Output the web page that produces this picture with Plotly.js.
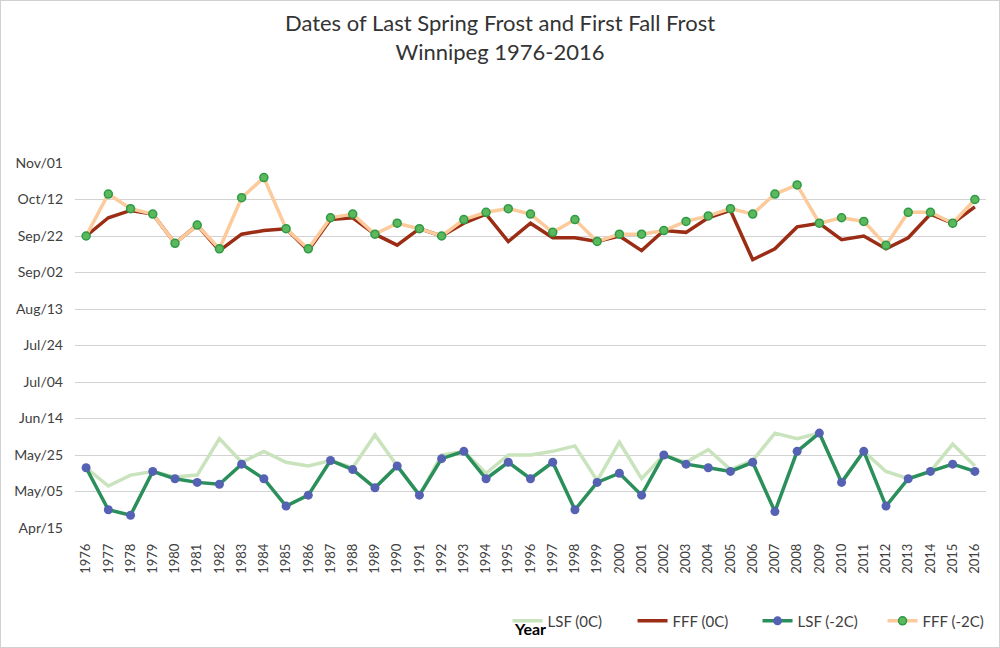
<!DOCTYPE html>
<html>
<head>
<meta charset="utf-8">
<script src="https://cdn.plot.ly/plotly-3.0.1.min.js"></script>
<style>
  html, body { margin: 0; padding: 0; background: #fff; }
  #chart { width: 998px; height: 646px; border: 1px solid #d0d0d0; }
</style>
</head>
<body>
<div id="chart"></div>
<script>
// Years (categories)
const years = ["1976","1977","1978","1979","1980","1981","1982","1983","1984","1985","1986","1987","1988","1989","1990","1991","1992","1993","1994","1995","1996","1997","1998","1999","2000","2001","2002","2003","2004","2005","2006","2007","2008","2009","2010","2011","2012","2013","2014","2015","2016"];

// Day-of-year values
const lsf0C = [138,128,134,136,133,134,154,141,147,141,139,142,138,156,139,123,145,147,135,145,145,147,150,131,152,132,145,141,148,137,142,157,154,157,130,147,136,132,136,151,139];
const fff0C = [265,275,279,277,261,271,257,266,268,269,257,274,275,266,260,269,265,272,277,262,272,264,264,262,265,257,268,267,275,279,252,258,270,272,263,265,258,264,277,272,281];
const lsfM2C = [138,115,112,136,132,130,129,140,132,117,123,142,137,127,139,123,143,147,132,141,132,141,115,130,135,123,145,140,138,136,141,114,147,157,130,147,117,132,136,140,136];
const fffM2C = [265,288,280,277,261,271,258,286,297,269,258,275,277,266,272,269,265,274,278,280,277,267,274,262,266,266,268,273,276,280,277,288,293,272,275,273,260,278,278,272,285];

// Y axis tick labels (day-of-year -> label)
const tickDays = [105,125,145,165,185,205,225,245,265,285,305];
const tickLabels = ["Apr/15","May/05","May/25","Jun/14","Jul/04","Jul/24","Aug/13","Sep/02","Sep/22","Oct/12","Nov/01"];

const FONT = "Lato, 'Open Sans', sans-serif";

const traces = [
  { x: years, y: lsf0C, name: "LSF (0C)", type: "scatter", mode: "lines",
    line: { color: "#c9e3bc", width: 3.5 } },
  { x: years, y: fff0C, name: "FFF (0C)", type: "scatter", mode: "lines",
    line: { color: "#9b2d15", width: 3.5 } },
  { x: years, y: lsfM2C, name: "LSF (-2C)", type: "scatter", mode: "lines+markers",
    line: { color: "#2a8f5a", width: 3.5 },
    marker: { color: "#5561b3", size: 9, line: { width: 0 } } },
  { x: years, y: fffM2C, name: "FFF (-2C)", type: "scatter", mode: "lines+markers",
    line: { color: "#fdca9b", width: 3.5 },
    marker: { color: "#5cb85c", size: 8, line: { color: "#2e9a45", width: 1.5 } } }
];

const layout = {
  width: 998, height: 646,
  margin: { l: 74, r: 13, t: 162, b: 119, autoexpand: false },
  paper_bgcolor: "#ffffff", plot_bgcolor: "#ffffff",
  font: { family: FONT, color: "#404040", size: 14 },
  title: {
    text: "Dates of Last Spring Frost and First Fall Frost<br>Winnipeg 1976-2016",
    font: { family: FONT, size: 22, color: "#333333" },
    x: 0.5, xanchor: "center", xref: "container",
    y: 1 - 30/646, yanchor: "middle", yref: "container"
  },
  xaxis: {
    type: "category",
    range: [-0.5, 40.5],
    tickangle: -90,
    tickfont: { family: FONT, size: 13, color: "#404040" },
    ticklabelstandoff: 12,
    showgrid: false, zeroline: false, showline: false,
    ticks: "",
    title: { text: "<b>Year</b>", font: { family: FONT, size: 16, color: "#000000" }, standoff: 51 },
    automargin: false
  },
  yaxis: {
    range: [105, 305],
    tickvals: tickDays, ticktext: tickLabels,
    tickfont: { family: FONT, size: 14, color: "#404040" },
    ticklabelstandoff: 11,
    showgrid: true, gridcolor: "#d2d2d2", gridwidth: 1,
    zeroline: false, showline: false, ticks: "",
    automargin: false
  },
  showlegend: true,
  legend: {
    orientation: "h",
    x: 0.4748, xanchor: "left",
    y: -0.255, yanchor: "middle",
    font: { family: FONT, size: 15, color: "#404040" },
    bgcolor: "rgba(0,0,0,0)",
    entrywidth: 80, entrywidthmode: "pixels",
    traceorder: "normal"
  }
};

Plotly.newPlot("chart", traces, layout, { displayModeBar: false, staticPlot: true });
</script>
</body>
</html>
